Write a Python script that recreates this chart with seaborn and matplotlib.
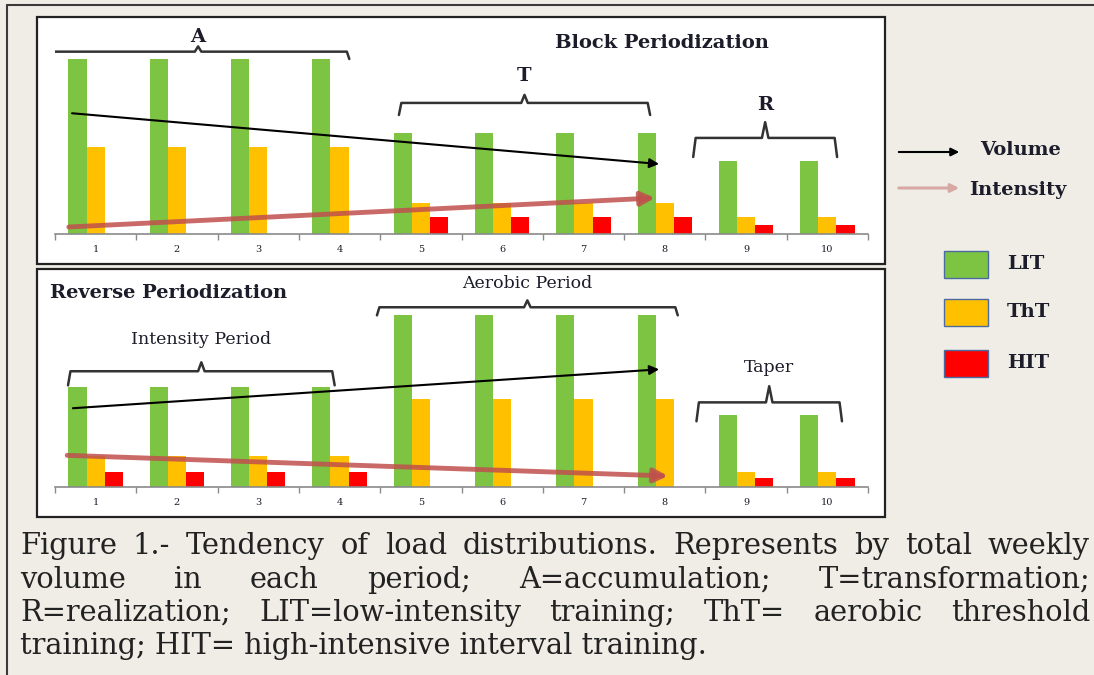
import numpy as np
import pandas as pd
import matplotlib
matplotlib.use("Agg")
import matplotlib.pyplot as plt
from matplotlib.patches import Rectangle, FancyArrowPatch
from matplotlib.lines import Line2D
import seaborn as sns

# ---- data (arbitrary volume units) ----
weeks = [str(i) for i in range(1, 11)]
load_types = ["LIT", "ThT", "HIT"]

block_lit = [100, 100, 100, 100, 58, 58, 58, 58, 42, 42]
block_tht = [50, 50, 50, 50, 18, 18, 18, 18, 10, 10]
block_hit = [0, 0, 0, 0, 10, 10, 10, 10, 5, 5]

reverse_lit = [58, 58, 58, 58, 100, 100, 100, 100, 42, 42]
reverse_tht = [18, 18, 18, 18, 51, 51, 51, 51, 9, 9]
reverse_hit = [9, 9, 9, 9, 0, 0, 0, 0, 5, 5]

# trend arrows: x start, y start, x end, y end (week index / volume units)
block_volume = [-0.29, 69, 6.93, 40]
block_intensity = [-0.33, 4, 6.88, 20.6]
reverse_volume = [-0.28, 45.8, 6.93, 68.4]
reverse_intensity = [-0.35, 18.4, 7.04, 6.4]

# period brackets: label, x start, x end, level, drop, notch, label y
block_periods = [("A", -0.6, 3.12, 104.2, 4.2, 3, 112.6),
                 ("T", 3.73, 6.82, 74.9, 6.9, 4.6, 90.3),
                 ("R", 7.35, 9.12, 54.9, 10.9, 9, 73.7)]
reverse_periods = [("Intensity Period", -0.34, 2.94, 67.3, 8.2, 5.2, 85.9),
                   ("Aerobic Period", 3.46, 7.16, 104.5, 4.7, 4, 118.4),
                   ("Taper", 7.39, 9.18, 49.2, 11, 9.4, 69.6)]

caption_lines = [
    "Figure 1.- Tendency of load distributions. Represents by total weekly",
    "volume in each period; A=accumulation; T=transformation;",
    "R=realization; LIT=low-intensity training; ThT= aerobic threshold",
    "training; HIT= high-intensive interval training.",
]

colors = {"LIT": "#7dc443", "ThT": "#ffc000", "HIT": "#ff0000"}
text_color = "#1c1c2a"
W, H = 1094, 675

sns.set_theme(style="white")
plt.rcParams["font.family"] = ["DejaVu Serif", "DejaVu Sans"]

fig = plt.figure(figsize=(W / 100, H / 100), dpi=100)
fig.patch.set_facecolor("#efede6")


def fx(px):
    return px / W


def fy(py):
    return 1 - py / H


# outer frame of the scanned figure
fig.add_artist(Line2D([fx(7), fx(7)], [fy(5), 0], color="#3a3a3a", lw=1.5))
fig.add_artist(Line2D([fx(7), 1], [fy(5), fy(5)], color="#3a3a3a", lw=1.5))

# white boxes around both panels
for top, bottom in [(17, 264), (269, 517)]:
    fig.add_artist(Rectangle((fx(37), fy(bottom)), fx(885) - fx(37), fy(top) - fy(bottom),
                             transform=fig.transFigure, facecolor="white",
                             edgecolor="#222222", lw=1.6, zorder=0))


def draw_panel(ax, lit, tht, hit, ymax, volume, intensity, periods):
    df = pd.DataFrame({
        "week": weeks * 3,
        "type": np.repeat(load_types, len(weeks)),
        "value": lit + tht + hit,
    })
    sns.barplot(data=df, x="week", y="value", hue="type", hue_order=load_types,
                palette=colors, width=0.67, saturation=1, ax=ax, legend=False,
                linewidth=0, edgecolor="none")
    ax.set_facecolor("none")
    ax.set_xlim(-0.5, len(weeks) - 0.5)
    ax.set_ylim(0, ymax)
    ax.set_xlabel("")
    ax.set_ylabel("")
    ax.set_yticks([])
    for side in ["top", "left", "right"]:
        ax.spines[side].set_visible(False)
    ax.spines["bottom"].set_color("#8a8a8a")
    ax.spines["bottom"].set_linewidth(1.2)
    ax.set_xticks(np.arange(-0.5, len(weeks)), minor=True)
    ax.tick_params(axis="x", which="minor", length=4, color="#8a8a8a", direction="out", bottom=True)
    ax.tick_params(axis="x", which="major", length=0, pad=8, labelsize=7, labelcolor=text_color)

    # trend arrows
    ax.annotate("", xy=(volume[2], volume[3]), xytext=(volume[0], volume[1]),
                arrowprops=dict(arrowstyle="-|>", color="black", lw=1.5,
                                mutation_scale=14, shrinkA=0, shrinkB=0))
    ax.annotate("", xy=(intensity[2], intensity[3]), xytext=(intensity[0], intensity[1]),
                arrowprops=dict(arrowstyle="-|>", color="#c0504d", alpha=0.85, lw=3.5,
                                mutation_scale=20, shrinkA=0, shrinkB=0))

    # period brackets
    for label, x0, x1, y, drop, notch, ly in periods:
        xc = (x0 + x1) / 2
        xs = [x0, x0 + 0.03, xc - 0.04, xc, xc + 0.04, x1 - 0.03, x1]
        ys = [y - drop, y, y, y + notch, y, y, y - drop]
        ax.plot(xs, ys, color="#333333", lw=1.8, solid_joinstyle="round")
        bold = len(label) == 1
        ax.text(xc, ly, label, ha="center", va="center", color=text_color,
                fontsize=14 if bold else 12.5, fontweight="bold" if bold else "normal")


ax_top = fig.add_axes([fx(55), fy(234), fx(868) - fx(55), fy(20) - fy(234)])
draw_panel(ax_top, block_lit, block_tht, block_hit, (234 - 20) / 1.75,
           block_volume, block_intensity, block_periods)
ax_top.text(6.97, 109, "Block Periodization", ha="center", va="center",
            fontsize=14, fontweight="bold", color=text_color)

ax_bot = fig.add_axes([fx(55), fy(487), fx(868) - fx(55), fy(272) - fy(487)])
draw_panel(ax_bot, reverse_lit, reverse_tht, reverse_hit, (487 - 272) / 1.72,
           reverse_volume, reverse_intensity, reverse_periods)
ax_bot.text(-0.56, 112.6, "Reverse Periodization", ha="left", va="center",
            fontsize=14, fontweight="bold", color=text_color)

# legend on the right
fig.add_artist(FancyArrowPatch((fx(896), fy(152)), (fx(962), fy(152)), transform=fig.transFigure,
                               arrowstyle="-|>", mutation_scale=12, color="black", lw=1.5))
fig.text(fx(980), fy(150), "Volume", fontsize=14, fontweight="bold", color=text_color, va="center")
fig.add_artist(FancyArrowPatch((fx(896), fy(188)), (fx(962), fy(188)), transform=fig.transFigure,
                               arrowstyle="-|>", mutation_scale=12, color="#d8a8a4", lw=2.2))
fig.text(fx(969), fy(190), "Intensity", fontsize=14, fontweight="bold", color=text_color, va="center")
for name, top in zip(load_types, [251, 299, 350]):
    fig.add_artist(Rectangle((fx(944), fy(top + 27)), fx(988) - fx(944), 27 / H,
                             transform=fig.transFigure, facecolor=colors[name],
                             edgecolor="#4a6aa0", lw=1))
    fig.text(fx(1007), fy(top + 13), name, fontsize=14, fontweight="bold",
             color=text_color, va="center")

# caption: first three lines justified to the full width, last line left aligned
renderer = fig.canvas.get_renderer()
left_px, right_px = 20, 1090
size = 20.8

for i, line in enumerate(caption_lines):
    y = fy(546 + i * 33.5)
    if i < 3:
        words = line.split()
        widths = []
        for w in words:
            t = fig.text(0, 0, w, fontsize=size)
            widths.append(t.get_window_extent(renderer).width)
            t.remove()
        gap = max((right_px - left_px - sum(widths)) / (len(words) - 1), 0.25 * size)
        x = left_px
        for w, wd in zip(words, widths):
            fig.text(fx(x), y, w, fontsize=size, color="#222222", va="center")
            x += wd + gap
    else:
        fig.text(fx(left_px), y, line, fontsize=size, color="#222222", va="center")

fig.savefig("out.png", dpi=100, facecolor=fig.get_facecolor())
